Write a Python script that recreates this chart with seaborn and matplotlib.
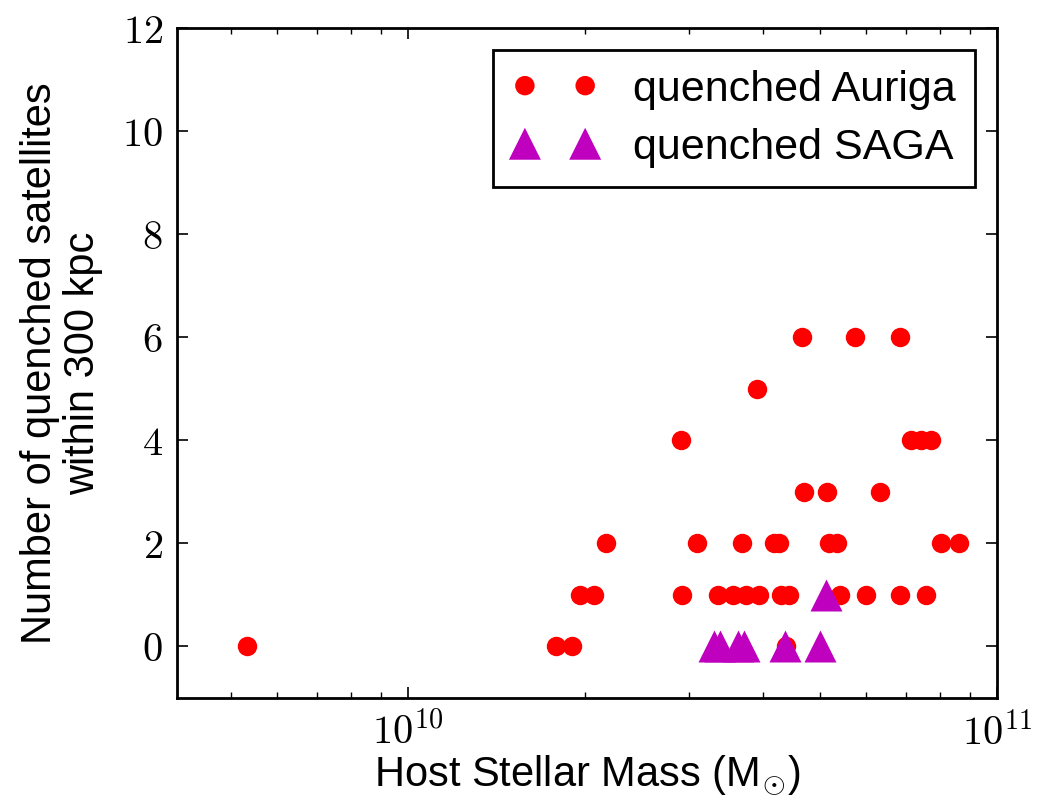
import numpy as np
import pandas as pd
import matplotlib
matplotlib.use("Agg")
import matplotlib.pyplot as plt
import matplotlib.ticker as mticker
import seaborn as sns

# ---- data ----
auriga_mass = [5.32e9, 1.78e10, 1.90e10, 4.39e10,
               1.96e10, 2.07e10, 2.92e10, 3.36e10, 3.56e10, 3.75e10, 3.94e10,
               4.30e10, 4.43e10, 5.42e10, 5.98e10, 6.83e10, 7.58e10,
               2.17e10, 3.10e10, 3.69e10, 4.18e10, 4.26e10, 5.19e10, 5.35e10,
               8.02e10, 8.62e10,
               4.70e10, 5.15e10, 6.34e10,
               2.91e10, 7.13e10, 7.43e10, 7.73e10,
               3.92e10,
               4.67e10, 5.73e10, 6.83e10]
auriga_n = [0, 0, 0, 0,
            1, 1, 1, 1, 1, 1, 1,
            1, 1, 1, 1, 1, 1,
            2, 2, 2, 2, 2, 2, 2,
            2, 2,
            3, 3, 3,
            4, 4, 4, 4,
            5,
            6, 6, 6]
saga_mass = [3.31e10, 3.38e10, 3.63e10, 3.72e10, 4.36e10, 5.01e10, 5.13e10]
saga_n = [0, 0, 0, 0, 0, 0, 1]

y_ticks = [0, 2, 4, 6, 8, 10, 12]
x_major = [1e10, 1e11]

sns.set_theme(style="ticks")
plt.rcParams["font.family"] = ["Liberation Sans", "DejaVu Sans"]
plt.rcParams["mathtext.fontset"] = "cm"
plt.rcParams["axes.linewidth"] = 2.0
for key in ["text.color", "axes.labelcolor", "xtick.color", "ytick.color",
            "axes.edgecolor"]:
    plt.rcParams[key] = "black"

fig = plt.figure(figsize=(10.40, 7.99), dpi=100)
ax = fig.add_axes([0.170, 0.1264, 0.7887, 0.8386])

sns.scatterplot(x=auriga_mass, y=auriga_n, color="#ff0000", marker="o", s=196,
                linewidth=0, label="quenched Auriga", ax=ax, zorder=3)
sns.scatterplot(x=saga_mass, y=saga_n, color="#bf00bf", marker="^", s=530,
                linewidth=0, label="quenched SAGA", ax=ax, zorder=4)

ax.set_xscale("log")
ax.set_xlim(4.05e9, 1e11)
ax.set_ylim(-1, 12)
ax.set_yticks(y_ticks)
ax.yaxis.set_major_formatter(mticker.FuncFormatter(lambda v, p: r"$%d$" % v))
ax.xaxis.set_major_locator(mticker.FixedLocator(x_major))
ax.xaxis.set_minor_locator(mticker.LogLocator(base=10, subs=np.arange(2, 10)))
ax.xaxis.set_major_formatter(mticker.FuncFormatter(
    lambda v, p: r"$10^{%d}$" % round(np.log10(v))))
ax.xaxis.set_minor_formatter(mticker.NullFormatter())

ax.tick_params(which="both", direction="in", top=True, right=True,
               color="black", labelcolor="black")
ax.tick_params(which="major", length=8, width=1.2, labelsize=29, pad=10)
ax.tick_params(which="minor", length=4, width=1.0)
for sp in ax.spines.values():
    sp.set_color("black")
    sp.set_linewidth(2.0)

ax.set_xlabel(r"Host Stellar Mass (M$_{\odot}$)", fontsize=30, labelpad=1,
              color="black")
ax.set_ylabel("Number of quenched satellites\nwithin 300 kpc", fontsize=30,
              labelpad=14, linespacing=1.1, color="black")

leg = ax.legend(loc="upper right", scatterpoints=2, scatteryoffsets=[0.5, 0.5],
                fontsize=31, frameon=True, fancybox=False, framealpha=1,
                edgecolor="black", borderaxespad=0.52, handlelength=2.0,
                handletextpad=0.8, borderpad=0.45, labelspacing=0.42)
leg.get_frame().set_linewidth(2.0)
for t in leg.get_texts():
    t.set_color("black")

fig.savefig("out.png", dpi=100)
